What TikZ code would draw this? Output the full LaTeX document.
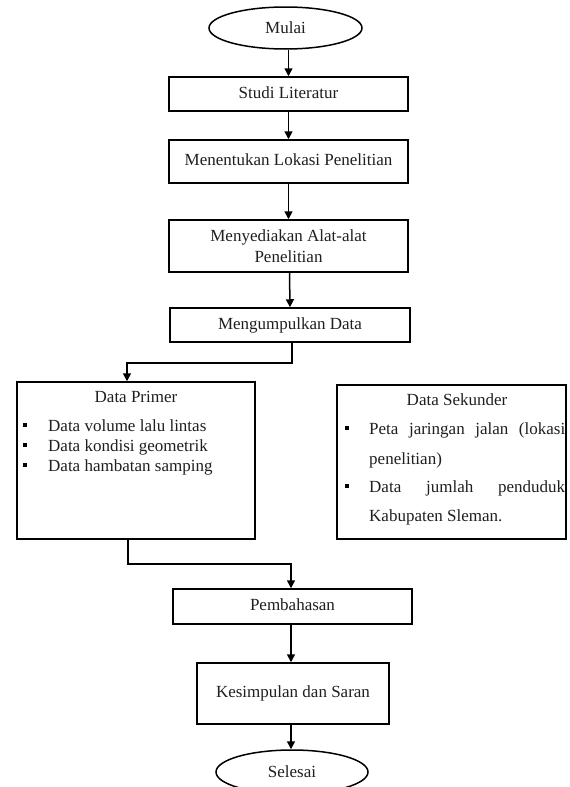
\documentclass[tikz,border=0pt]{standalone}
\usepackage{fontspec}
\setmainfont{Liberation Serif}
\usetikzlibrary{shapes.geometric,arrows.meta}
\begin{document}
\begin{tikzpicture}[x=1pt,y=-1pt,
  every node/.style={font=\fontsize{17}{21}\selectfont, inner sep=0pt, text=black!88},
  box/.style={draw, line width=1.5pt, rectangle, align=center},
  oval/.style={draw, line width=1.5pt, ellipse},
  txt/.style={text height=12pt, text depth=4pt},
  bul/.style={fill=black, rectangle, minimum size=4.5pt, inner sep=0pt},
  arr/.style={line width=1.5pt, -{Triangle[length=8pt,width=8pt]}},
  ln/.style={line width=1.5pt}]
\useasboundingbox (0,0) rectangle (570,787);
\fill[white] (0,0) rectangle (570,787);

\node[oval, minimum width=153pt, minimum height=42pt] (mulai) at (285.5,28) {Mulai};
\node[box, txt, minimum width=239pt, minimum height=34pt] (studi) at (288.5,94) {Studi Literatur};
\node[box, txt, minimum width=239pt, minimum height=43pt] (lokasi) at (288.5,161.5) {Menentukan Lokasi Penelitian};
\node[box, minimum width=239pt, minimum height=52pt] (alat) at (288.5,246) {Menyediakan Alat-alat\\Penelitian};
\node[box, txt, minimum width=240pt, minimum height=34pt] (kumpul) at (290,325) {Mengumpulkan Data};
\node[box, minimum width=238pt, minimum height=157pt] (primer) at (136,460.5) {};
\node[box, minimum width=229pt, minimum height=154pt] (sekunder) at (451.5,462) {};
\node[box, txt, minimum width=239pt, minimum height=35pt] (bahas) at (292.5,606.5) {Pembahasan};
\node[box, txt, minimum width=192pt, minimum height=61pt] (simpul) at (293,693.5) {Kesimpulan dan Saran};
\node[oval, minimum width=152pt, minimum height=44pt] (selesai) at (292,772) {Selesai};

% Data Primer contents
\node[txt] (ptitle) at (136,398) {Data Primer};
\node[bul] (pb1) at (25,425) {};
\node[bul] (pb2) at (25,445) {};
\node[bul] (pb3) at (25,465) {};
\node[txt, anchor=west] (p1) at (48,427) {Data volume lalu lintas};
\node[txt, anchor=west] (p2) at (48,447) {Data kondisi geometrik};
\node[txt, anchor=west] (p3) at (48,467) {Data hambatan samping};

% Data Sekunder contents
\node[txt] (stitle) at (457,401) {Data Sekunder};
\node[bul] (sb1) at (347,428) {};
\node[bul] (sb2) at (347,486) {};
\node[txt, anchor=west] (s1) at (369,430) {\makebox[196pt][s]{Peta jaringan jalan (lokasi}};
\node[txt, anchor=west] (s2) at (369,460) {penelitian)};
\node[txt, anchor=west] (s3) at (369,488) {\makebox[196pt][s]{Data jumlah penduduk}};
\node[txt, anchor=west] (s4) at (369,517) {Kabupaten Sleman.};

% connectors
\draw[arr] (studi.north |- mulai.south) -- (studi.north);
\draw[arr] (studi.south) -- (lokasi.north);
\draw[arr] (lokasi.south) -- (alat.north);
\draw[arr] ([xshift=1pt]alat.south) -- ([xshift=0pt]kumpul.north);
\draw[arr] ([xshift=2pt]kumpul.south) -- ++(0pt,-20pt) -| ([xshift=-9pt]primer.north);
\draw[arr] ([xshift=-8pt]primer.south) -- ++(0pt,-24pt) -| ([xshift=-1.5pt]bahas.north);
\draw[arr] ([xshift=-1.5pt]bahas.south) -- ([xshift=-2pt]simpul.north);
\draw[arr] ([xshift=-2pt]simpul.south) -- ([xshift=-1pt]selesai.north);
\end{tikzpicture}
\end{document}
